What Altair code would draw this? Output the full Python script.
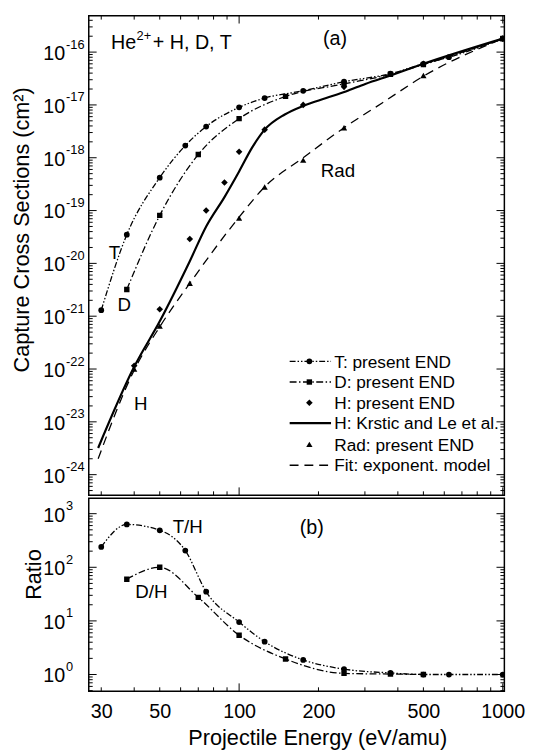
import altair as alt
import pandas as pd

# ---------------- data (energies in eV/amu) ----------------
T_E = [30, 37.5, 50, 62.5, 75, 100, 125, 175, 250, 375, 500, 625, 1000]
T_S = [1.3e-21, 3.5e-20, 4.2e-19, 1.7e-18, 3.9e-18, 9.0e-18, 1.35e-17, 1.85e-17,
       2.75e-17, 3.9e-17, 6.0e-17, 8.0e-17, 1.8e-16]

D_E = [37.5, 50, 70, 100, 150, 250, 375, 500, 1000]
D_S = [3.2e-21, 8.1e-20, 1.15e-18, 5.5e-18, 1.45e-17, 2.5e-17, 3.8e-17, 5.8e-17, 1.8e-16]

H_E = [40, 50, 65, 75, 88, 100, 125, 175, 250, 500, 1000]
H_S = [1.15e-22, 1.35e-21, 2.9e-20, 1.0e-19, 3.4e-19, 1.3e-18, 3.4e-18, 1.0e-17,
       2.2e-17, 6.0e-17, 1.8e-16]

RAD_E = [40, 50, 65, 100, 125, 175, 250, 500, 1000]
RAD_S = [1.0e-22, 6.5e-22, 4.2e-21, 7.2e-20, 2.8e-19, 9.0e-19, 3.7e-18, 3.6e-17, 1.8e-16]

KR_E = [29.2, 40, 50, 65, 75, 88, 100, 112, 125, 149, 175, 214, 254, 301, 380, 500, 1000]
KR_S = [3.2e-24, 1.1e-22, 8.0e-22, 1.1e-20, 5.0e-20, 1.8e-19, 5.5e-19, 1.55e-18,
        3.4e-18, 6.6e-18, 9.6e-18, 1.35e-17, 1.8e-17, 2.5e-17, 3.7e-17, 6.0e-17, 1.8e-16]

FIT_E = [29.2, 40, 50, 65, 100, 125, 175, 250, 350, 500, 1000]
FIT_S = [2.0e-24, 9.5e-23, 6.3e-22, 4.2e-21, 7.5e-20, 2.8e-19, 1.0e-18, 3.7e-18,
         1.1e-17, 3.5e-17, 1.8e-16]

TH_E = [30, 37.5, 50, 62.5, 75, 100, 125, 175, 250, 375, 500, 625, 1000]
TH_R = [240, 630, 490, 205, 35, 9.5, 4.1, 1.87, 1.26, 1.07, 1.0, 1.0, 1.0]

DH_E = [37.5, 50, 70, 100, 150, 250, 375, 500]
DH_R = [60, 100, 27.5, 5.4, 1.95, 1.05, 1.02, 1.0]

X_LABELS = [30, 50, 100, 200, 500, 1000]
X_MAJOR = [100, 1000]
X_MINOR = [30, 40, 50, 60, 70, 80, 90, 200, 300, 400, 500, 600, 700, 800, 900]
YA_EXP = [-24, -23, -22, -21, -20, -19, -18, -17, -16]
YB_EXP = [0, 1, 2, 3]

LEG_LABELS = ["T: present END", "D: present END", "H: present END",
              "H: Krstic and Le et al.", "Rad: present END", "Fit: exponent. model"]

# ---------------- styling / layout ----------------
FONT = "Liberation Sans"
W, HA, HB = 422, 487, 196
X_DOMAIN = [26.9, 1014]
YA_DOMAIN = [4.07e-25, 4.9e-16]
YB_DOMAIN = [0.487, 1942]
T_DASH = [6, 2, 1.5, 2, 1.5, 2]
D_DASH = [7, 2.5, 1.5, 2.5]
FIT_DASH = [9, 6]

xs = alt.Scale(type="log", domain=X_DOMAIN, nice=False)
ysa = alt.Scale(type="log", domain=YA_DOMAIN, nice=False)
ysb = alt.Scale(type="log", domain=YB_DOMAIN, nice=False)

xax_a = None
xax_b = alt.Axis(values=X_LABELS, format="d", ticks=False, domain=False, grid=False,
                 labelFont=FONT, labelFontSize=20, labelColor="black", labelPadding=10.5,
                 labelFlush=False, labelOverlap=False,
                 title="Projectile Energy (eV/amu)", titleFont=FONT, titleFontSize=22,
                 titleFontWeight="normal", titleColor="black", titlePadding=7, titleX=232)
yax_a = alt.Axis(labels=False, ticks=False, domain=False, grid=False,
                 title="Capture Cross Sections (cm²)", titleFont=FONT, titleFontSize=22,
                 titleFontWeight="normal", titleColor="black", titlePadding=56, titleY=217)
yax_b = alt.Axis(labels=False, ticks=False, domain=False, grid=False,
                 title="Ratio", titleFont=FONT, titleFontSize=22,
                 titleFontWeight="normal", titleColor="black", titlePadding=44, titleY=77)


def enc(ys, xax, yax):
    return dict(x=alt.X("E:Q", scale=xs, axis=xax), y=alt.Y("v:Q", scale=ys, axis=yax))


def curve(E, V, ys, xax, yax, dash=None, width=1.3):
    df = pd.DataFrame({"E": E, "v": V})
    kw = dict(color="black", strokeWidth=width, interpolate="monotone", clip=True)
    if dash:
        kw["strokeDash"] = dash
    return alt.Chart(df).mark_line(**kw).encode(**enc(ys, xax, yax))


def pts(E, V, ys, xax, yax, shape, size):
    df = pd.DataFrame({"E": E, "v": V})
    return alt.Chart(df).mark_point(shape=shape, filled=True, size=size, color="black",
                                    opacity=1, strokeWidth=0, clip=True).encode(**enc(ys, xax, yax))


def minor_vals(exps, dom):
    vals = [k * 10.0 ** n for n in range(min(exps) - 1, max(exps) + 1) for k in range(2, 10)]
    return [v for v in vals if dom[0] < v < dom[1]]


def xticks(vals, length, h, xax, top):
    df = pd.DataFrame({"E": vals})
    base = alt.Chart(df).mark_rule(color="black", strokeWidth=1)
    xe = alt.X("E:Q", scale=xs, axis=xax)
    out = [base.encode(x=xe, y=alt.value(h), y2=alt.value(h - length))]
    if top:
        out.append(base.encode(x=xe, y=alt.value(0), y2=alt.value(length)))
    return out


def yticks(vals, length, ys, yax):
    df = pd.DataFrame({"v": vals})
    base = alt.Chart(df).mark_rule(color="black", strokeWidth=1)
    ye = alt.Y("v:Q", scale=ys, axis=yax)
    return [base.encode(y=ye, x=alt.value(0), x2=alt.value(length)),
            base.encode(y=ye, x=alt.value(W), x2=alt.value(W - length))]


def ylabels(exps, ys, yax):
    df = pd.DataFrame({"v": [10.0 ** n for n in exps], "exp": [str(n) for n in exps]})
    ye = alt.Y("v:Q", scale=ys, axis=yax)
    mant = alt.Chart(df).mark_text(text="10", align="right", baseline="alphabetic", dy=8,
                                   font=FONT, fontSize=20, color="black").encode(
        y=ye, x=alt.value(-24))
    expo = alt.Chart(df).mark_text(align="left", baseline="alphabetic", dy=-3.5,
                                   font=FONT, fontSize=13, color="black").encode(
        y=ye, x=alt.value(-23), text="exp:N")
    return [mant, expo]


dummy = pd.DataFrame({"d": [0]})


def note(txt, x, y, size=19, align="center"):
    return alt.Chart(dummy).mark_text(text=txt, align=align, baseline="alphabetic", font=FONT,
                                      fontSize=size, color="black").encode(
        x=alt.value(x), y=alt.value(y))


def leg_rule(y, dash=None, width=1.3):
    kw = dict(color="black", strokeWidth=width)
    if dash:
        kw["strokeDash"] = dash
    return alt.Chart(dummy).mark_rule(**kw).encode(x=alt.value(204), x2=alt.value(246), y=alt.value(y))


def leg_pt(y, shape, size):
    return alt.Chart(dummy).mark_point(shape=shape, filled=True, size=size, color="black",
                                       opacity=1, strokeWidth=0).encode(x=alt.value(224), y=alt.value(y))


# ---------------- panel (a) ----------------
LEG_Y = [351, 372, 393, 413.7, 435.3, 456.5]
layers_a = [
    curve(FIT_E, FIT_S, ysa, xax_a, yax_a, FIT_DASH),
    curve(KR_E, KR_S, ysa, xax_a, yax_a, None, 2.2),
    curve(D_E, D_S, ysa, xax_a, yax_a, D_DASH),
    curve(T_E, T_S, ysa, xax_a, yax_a, T_DASH),
    pts(RAD_E, RAD_S, ysa, xax_a, yax_a, "triangle-up", 40),
    pts(H_E, H_S, ysa, xax_a, yax_a, "diamond", 45),
    pts(D_E, D_S, ysa, xax_a, yax_a, "square", 30),
    pts(T_E, T_S, ysa, xax_a, yax_a, "circle", 34),
]
layers_a += xticks(X_MAJOR, 8, HA, xax_a, True)
layers_a += xticks(X_MINOR, 4, HA, xax_a, True)
layers_a += yticks([10.0 ** n for n in YA_EXP], 8, ysa, yax_a)
layers_a += yticks(minor_vals(YA_EXP, YA_DOMAIN), 4, ysa, yax_a)
layers_a += ylabels(YA_EXP, ysa, yax_a)
layers_a += [
    note("He", 22.7, 33.7, 20, "left"),
    note("2+", 48.5, 24.5, 13, "left"),
    note("+ H, D, T", 65, 33.7, 20, "left"),
    note("(a)", 250, 29.5, 20),
    note("T", 26, 247),
    note("D", 36, 300),
    note("H", 52.7, 400),
    note("Rad", 253, 163.7),
]
# legend
layers_a += [leg_rule(LEG_Y[0], T_DASH), leg_pt(LEG_Y[0], "circle", 34),
             leg_rule(LEG_Y[1], D_DASH), leg_pt(LEG_Y[1], "square", 30),
             leg_pt(LEG_Y[2], "diamond", 45),
             leg_rule(LEG_Y[3], None, 2.2),
             leg_pt(LEG_Y[4], "triangle-up", 40),
             leg_rule(LEG_Y[5], FIT_DASH)]
for lab, ly in zip(LEG_LABELS, LEG_Y):
    layers_a.append(note(lab, 249.3, ly + 6.3, 17.5, "left"))

top = alt.layer(*layers_a).properties(width=W, height=HA)

# ---------------- panel (b) ----------------
layers_b = [
    curve(DH_E, DH_R, ysb, xax_b, yax_b, D_DASH),
    curve(TH_E, TH_R, ysb, xax_b, yax_b, T_DASH),
    pts(DH_E, DH_R, ysb, xax_b, yax_b, "square", 30),
    pts(TH_E, TH_R, ysb, xax_b, yax_b, "circle", 34),
]
layers_b += xticks(X_MAJOR, 8, HB, xax_b, False)
layers_b += xticks(X_MINOR, 4, HB, xax_b, False)
layers_b += yticks([10.0 ** n for n in YB_EXP], 8, ysb, yax_b)
layers_b += yticks(minor_vals(YB_EXP, YB_DOMAIN), 4, ysb, yax_b)
layers_b += ylabels(YB_EXP, ysb, yax_b)
layers_b += [
    note("(b)", 226.5, 36, 20),
    note("T/H", 100.5, 35),
    note("D/H", 63.5, 101.7),
]

bottom = alt.layer(*layers_b).properties(width=W, height=HB)

chart = (
    alt.vconcat(top, bottom, spacing=0)
    .resolve_scale(x="independent", y="independent")
    .resolve_axis(x="independent", y="independent")
    .properties(padding={"left": 2, "top": 0, "right": 2, "bottom": 2}, background="white")
    .configure(font=FONT)
    .configure_view(stroke="black", strokeWidth=1.5)
)

chart.save("out.html", embed_options={"renderer": "svg", "actions": False})
